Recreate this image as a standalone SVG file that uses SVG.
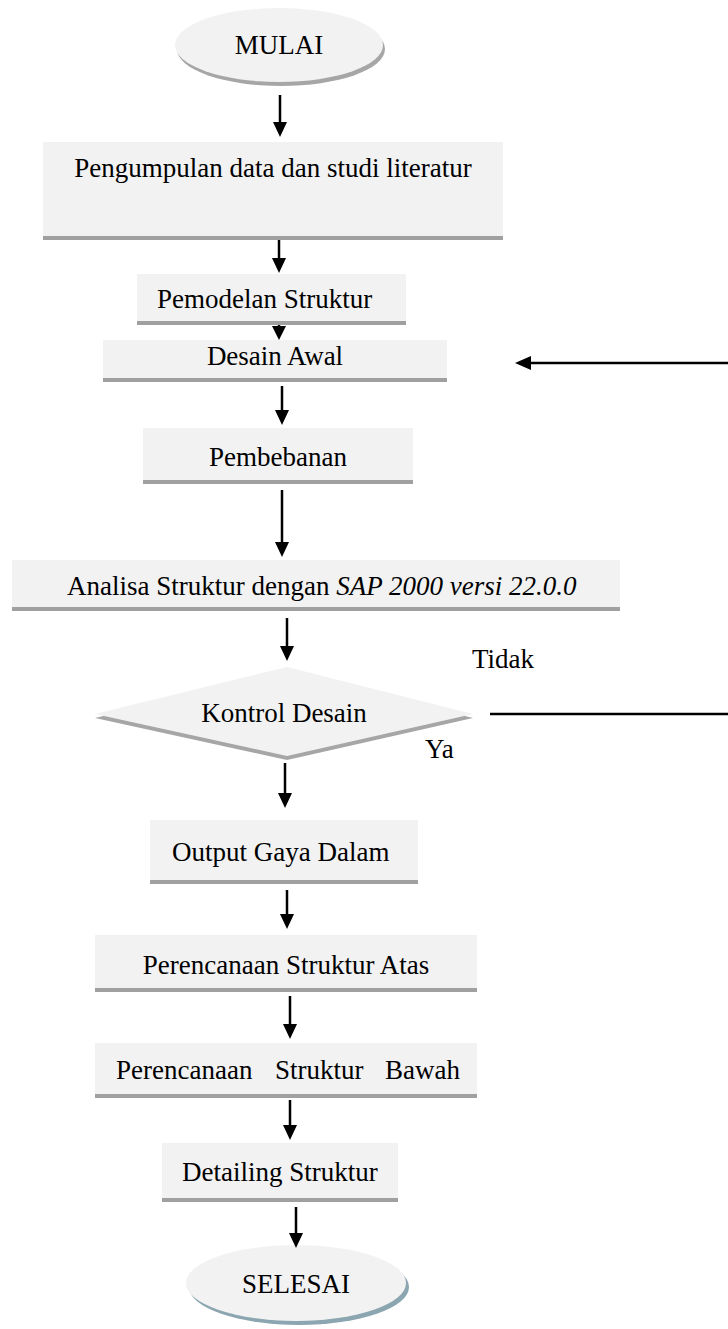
<svg xmlns="http://www.w3.org/2000/svg" width="728" height="1329" viewBox="0 0 728 1329">
  <style>
    .lbl { font-family: "Liberation Serif", "Times New Roman", serif; font-size: 27px; fill: #000; }
    .box { fill: #f2f2f2; }
    .bar { fill: #a0a0a0; }
    .wire { stroke: #000; stroke-width: 2.5; fill: none; }
    .head { fill: #000; }
  </style>

  <!-- terminals and process steps -->
  <g id="mulai">
    <ellipse cx="281" cy="49" rx="104" ry="37" fill="#a6a6a6"/>
    <ellipse cx="279" cy="45" rx="104" ry="37" fill="#f2f2f2"/>
    <text class="lbl" x="279" y="54" text-anchor="middle">MULAI</text>
  </g>

  <g id="pengumpulan">
    <rect class="box" x="43" y="142" width="460" height="94"/>
    <rect class="bar" x="43" y="236" width="460" height="4"/>
    <text class="lbl" x="273" y="177" text-anchor="middle">Pengumpulan data dan studi literatur</text>
  </g>

  <g id="pemodelan">
    <rect class="box" x="137" y="274" width="269" height="47"/>
    <rect class="bar" x="137" y="321" width="269" height="4"/>
    <text class="lbl" x="157" y="308">Pemodelan Struktur</text>
  </g>

  <g id="desain-awal">
    <rect class="box" x="103" y="340" width="344" height="38"/>
    <rect class="bar" x="103" y="378" width="344" height="4"/>
    <text class="lbl" x="275" y="365" text-anchor="middle">Desain Awal</text>
  </g>

  <g id="pembebanan">
    <rect class="box" x="143" y="428" width="270" height="52"/>
    <rect class="bar" x="143" y="480" width="270" height="4"/>
    <text class="lbl" x="278" y="466" text-anchor="middle">Pembebanan</text>
  </g>

  <g id="analisa">
    <rect class="box" x="12" y="560" width="608" height="47"/>
    <rect class="bar" x="12" y="607" width="608" height="4"/>
    <text class="lbl" x="67" y="595">Analisa Struktur dengan <tspan font-style="italic">SAP 2000 versi 22.0.0</tspan></text>
  </g>

  <g id="kontrol-desain">
    <polygon points="95,718 287,671 473,718 287,760" fill="#a6a6a6"/>
    <polygon points="95,714 287,667 473,714 287,756" fill="#f2f2f2"/>
    <text class="lbl" x="284" y="722" text-anchor="middle">Kontrol Desain</text>
  </g>

  <g id="output-gaya">
    <rect class="box" x="150" y="820" width="268" height="60"/>
    <rect class="bar" x="150" y="880" width="268" height="4"/>
    <text class="lbl" x="172" y="861">Output Gaya Dalam</text>
  </g>

  <g id="struktur-atas">
    <rect class="box" x="95" y="935" width="382" height="53"/>
    <rect class="bar" x="95" y="988" width="382" height="4"/>
    <text class="lbl" x="286" y="974" text-anchor="middle">Perencanaan Struktur Atas</text>
  </g>

  <g id="struktur-bawah">
    <rect class="box" x="95" y="1043" width="382" height="51"/>
    <rect class="bar" x="95" y="1094" width="382" height="4"/>
    <text class="lbl" x="116" y="1079">Perencanaan</text>
    <text class="lbl" x="275" y="1079">Struktur</text>
    <text class="lbl" x="385" y="1079">Bawah</text>
  </g>

  <g id="detailing">
    <rect class="box" x="162" y="1143" width="236" height="55"/>
    <rect class="bar" x="162" y="1198" width="236" height="4"/>
    <text class="lbl" x="182" y="1181">Detailing Struktur</text>
  </g>

  <g id="selesai">
    <ellipse cx="299" cy="1287" rx="110" ry="38" fill="#8ba6b0"/>
    <ellipse cx="296" cy="1283" rx="110" ry="38" fill="#f2f2f2"/>
    <text class="lbl" x="296" y="1293" text-anchor="middle">SELESAI</text>
  </g>

  <!-- flow arrows -->
  <g id="connectors">
    <line class="wire" x1="280" y1="95" x2="280" y2="124"/>
    <polygon class="head" points="273,122 287,122 280,137"/>

    <line class="wire" x1="279" y1="240" x2="279" y2="260"/>
    <polygon class="head" points="272,258 286,258 279,273"/>

    <line class="wire" x1="279" y1="325" x2="279" y2="328"/>
    <polygon class="head" points="272,326 286,326 279,340"/>

    <line class="wire" x1="728" y1="363" x2="528" y2="363"/>
    <polygon class="head" points="515,363 531,356 531,370"/>

    <line class="wire" x1="282" y1="386" x2="282" y2="412"/>
    <polygon class="head" points="275,410 289,410 282,425"/>

    <line class="wire" x1="282" y1="490" x2="282" y2="544"/>
    <polygon class="head" points="275,542 289,542 282,557"/>

    <line class="wire" x1="287" y1="618" x2="287" y2="648"/>
    <polygon class="head" points="280,646 294,646 287,661"/>

    <line class="wire" x1="490" y1="714" x2="728" y2="714"/>

    <line class="wire" x1="285" y1="763" x2="285" y2="795"/>
    <polygon class="head" points="278,793 292,793 285,808"/>

    <line class="wire" x1="287" y1="890" x2="287" y2="916"/>
    <polygon class="head" points="280,914 294,914 287,929"/>

    <line class="wire" x1="290" y1="996" x2="290" y2="1026"/>
    <polygon class="head" points="283,1024 297,1024 290,1039"/>

    <line class="wire" x1="290" y1="1100" x2="290" y2="1127"/>
    <polygon class="head" points="283,1125 297,1125 290,1140"/>

    <line class="wire" x1="296" y1="1207" x2="296" y2="1235"/>
    <polygon class="head" points="289,1233 303,1233 296,1248"/>
  </g>

  <!-- branch labels -->
  <text class="lbl" x="472" y="668">Tidak</text>
  <text class="lbl" x="425" y="758">Ya</text>
</svg>
